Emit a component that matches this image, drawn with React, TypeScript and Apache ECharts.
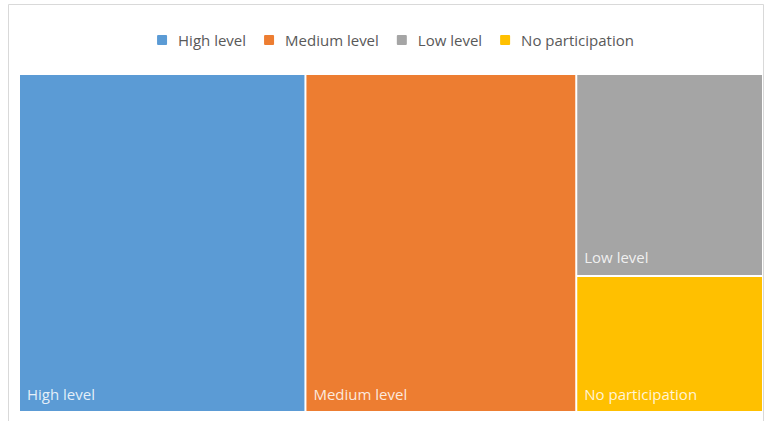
import React, { useEffect, useRef } from "react";
import * as echarts from "echarts";

// Participation levels and their shares (%)
const categories = ["High level", "Medium level", "Low level", "No participation"];
const shares = [38.5, 36.4, 15.0, 10.1];
const palette = ["#5b9bd5", "#ed7d31", "#a5a5a5", "#ffc000"];

const FONT_FAMILY = "'Open Sans', 'Noto Sans', sans-serif";
const FONT_SIZE = 15;

function measure(text: string): number {
  const ctx = document.createElement("canvas").getContext("2d");
  if (!ctx) return text.length * 7;
  ctx.font = `${FONT_SIZE}px ${FONT_FAMILY}`;
  return ctx.measureText(text).width;
}

// Horizontal legend, centred on the plot, built as graphic elements
function buildLegend(centerX: number, y: number) {
  const icon = 10;
  const iconGap = 11;
  const itemGap = 18;
  const widths = categories.map(measure);
  const total =
    widths.reduce((s, w) => s + icon + iconGap + w, 0) + itemGap * (categories.length - 1);
  let x = centerX - total / 2;
  const els: any[] = [];
  categories.forEach((name, i) => {
    els.push({
      type: "rect",
      shape: { x, y: y - icon / 2, width: icon, height: icon, r: 1 },
      style: { fill: palette[i] },
      silent: true,
    });
    els.push({
      type: "text",
      x: x + icon + iconGap,
      y,
      style: {
        text: name,
        fill: "#595959",
        font: `${FONT_SIZE}px ${FONT_FAMILY}`,
        textVerticalAlign: "middle",
        verticalAlign: "middle",
      },
      silent: true,
    });
    x += icon + iconGap + widths[i] + itemGap;
  });
  return els;
}

export default function App() {
  const ref = useRef<HTMLDivElement>(null);

  useEffect(() => {
    document.body.style.margin = "0";
    if (!ref.current) return;
    const chart = echarts.init(ref.current, null, { renderer: "svg" });

    chart.setOption({
      animation: false,
      backgroundColor: "#ffffff",
      graphic: [
        {
          type: "rect",
          shape: { x: 8.5, y: 4.5, width: 755, height: 440 },
          style: { fill: "none", stroke: "#d9d9d9", lineWidth: 1 },
          silent: true,
        },
        ...buildLegend(395.5, 40),
      ],
      series: [
        {
          type: "treemap",
          left: 20,
          top: 75,
          width: 742,
          height: 336,
          roam: false,
          nodeClick: false,
          breadcrumb: { show: false },
          squareRatio: 1,
          itemStyle: { borderWidth: 0, gapWidth: 2, borderColor: "#ffffff" },
          levels: [{ itemStyle: { borderWidth: 0, gapWidth: 2 } }],
          label: {
            show: true,
            position: "insideBottomLeft",
            distance: 2,
            offset: [0, -3],
            color: "rgba(255,255,255,0.85)",
            fontFamily: FONT_FAMILY,
            fontSize: FONT_SIZE,
          },
          data: categories.map((name, i) => ({
            name,
            value: shares[i],
            itemStyle: { color: palette[i] },
          })),
        },
      ],
    });

    return () => chart.dispose();
  }, []);

  return <div ref={ref} style={{ width: 764, height: 421 }} />;
}
